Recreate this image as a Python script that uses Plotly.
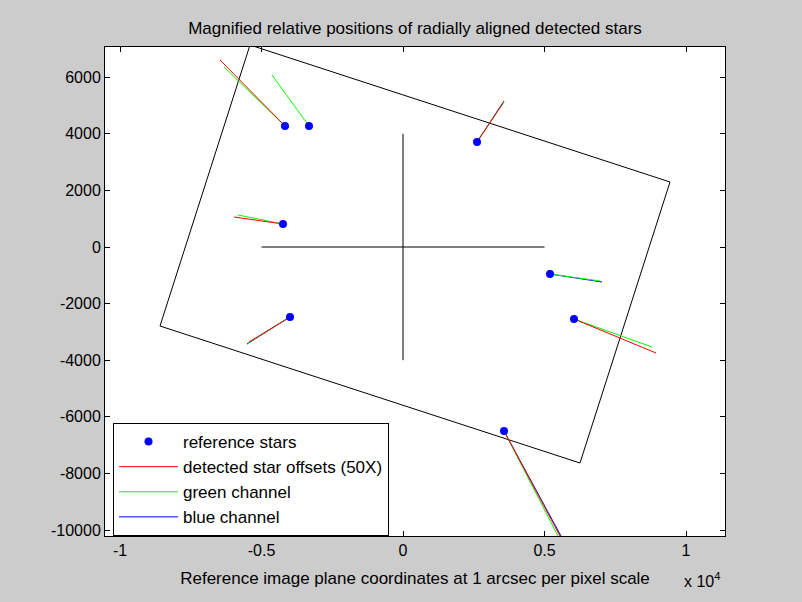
import plotly.graph_objects as go

# Reference star positions
star_x = [-4170, -3322, 2615, -4240, 5194, 6042, -3993, 3569]
star_y = [4276, 4276, 3710, 813, -954, -2544, -2473, -6502]

# Magnified (50X) offset end points per channel (None = not drawn)
red_end_x = [-6466, None, 3534, -5972, None, 8940, -5442, 5968]
red_end_y = [6608, None, 5088, 1060, None, -3746, -3357, -11000]
green_end_x = [-6325, -4629, 3569, -5830, 6961, 8799, -5477, 5883]
green_end_y = [6360, 6078, 5124, 1131, -1201, -3534, -3392, -11000]
blue_end_x = [None, None, 3569, None, 7032, None, -5512, 6011]
blue_end_y = [None, None, 5159, None, -1237, None, -3428, -11000]

# Image frame outline (rotated rectangle)
rect_x = [-5406, 9435, 6254, -8587, -5406]
rect_y = [7138, 2297, -7633, -2792, 7138]

# Center cross
cross_x = [-5000, 5000, None, 0, 0]
cross_y = [0, 0, None, 4000, -4000]

x_tickvals = [-10000, -5000, 0, 5000, 10000]
x_ticktext = ["-1", "-0.5", "0", "0.5", "1"]
y_tickvals = [-10000, -8000, -6000, -4000, -2000, 0, 2000, 4000, 6000]
y_ticktext = [str(v) for v in y_tickvals]


def segments(ex, ey):
    xs, ys = [], []
    for sx, sy, a, b in zip(star_x, star_y, ex, ey):
        if a is None:
            continue
        xs += [sx, a, None]
        ys += [sy, b, None]
    return xs, ys


FONT = "Liberation Sans, Arial, Helvetica, sans-serif"
fig = go.Figure()

fig.add_trace(go.Scatter(x=rect_x, y=rect_y, mode="lines",
                         line=dict(color="black", width=1), showlegend=False,
                         hoverinfo="skip"))
fig.add_trace(go.Scatter(x=cross_x, y=cross_y, mode="lines",
                         line=dict(color="black", width=1), showlegend=False,
                         hoverinfo="skip"))

bx, by = segments(blue_end_x, blue_end_y)
gx, gy = segments(green_end_x, green_end_y)
rx, ry = segments(red_end_x, red_end_y)

fig.add_trace(go.Scatter(x=bx, y=by, mode="lines", name="blue channel",
                         line=dict(color="#0000ff", width=1), legendrank=4))
fig.add_trace(go.Scatter(x=gx, y=gy, mode="lines", name="green channel",
                         line=dict(color="#00ff00", width=1), legendrank=3))
fig.add_trace(go.Scatter(x=rx, y=ry, mode="lines", name="detected star offsets (50X)",
                         line=dict(color="#ff0000", width=1), legendrank=2))
fig.add_trace(go.Scatter(x=star_x, y=star_y, mode="markers", name="reference stars",
                         marker=dict(color="#0000ff", size=8), legendrank=1))

fig.update_layout(
    width=802, height=602,
    paper_bgcolor="#cccccc", plot_bgcolor="white",
    margin=dict(l=105, r=77, t=47, b=66),
    font=dict(family=FONT, size=16, color="black"),
    title=dict(text="Magnified relative positions of radially aligned detected stars",
               x=0.5, xref="paper", y=1 - 28 / 602, yref="container",
               xanchor="center", yanchor="middle",
               font=dict(family=FONT, size=17, color="black")),
    showlegend=True,
    legend=dict(x=0.0129, y=(536 - 423) / 489, xanchor="left", yanchor="top",
                bgcolor="white", bordercolor="black", borderwidth=1,
                font=dict(family=FONT, size=17, color="black"),
                traceorder="normal", itemwidth=59),
    xaxis=dict(range=[-10530, 11378], tickvals=x_tickvals, ticktext=x_ticktext,
               ticks="inside", ticklen=5, tickcolor="black", showline=True,
               linecolor="black", linewidth=1, mirror="ticks", showgrid=False,
               zeroline=False, tickfont=dict(size=16),
               title=dict(text="Reference image plane coordinates at 1 arcsec per pixel scale",
                          standoff=13, font=dict(family=FONT, size=17))),
    yaxis=dict(range=[-10212, 7067], tickvals=y_tickvals, ticktext=y_ticktext,
               ticks="inside", ticklen=5, tickcolor="black", showline=True,
               linecolor="black", linewidth=1, mirror="ticks", showgrid=False,
               zeroline=False, tickfont=dict(size=16)),
    annotations=[dict(text="x 10<sup>4</sup>", xref="paper", yref="paper",
                      x=(682 - 105) / 620, y=(536 - 580) / 489,
                      xanchor="left", yanchor="middle", showarrow=False,
                      font=dict(family=FONT, size=16, color="black"))],
)

fig.write_html("out.html", config={"displayModeBar": False},
               post_script="document.body.style.margin='0';"
                           "document.body.style.background='#cccccc';")
